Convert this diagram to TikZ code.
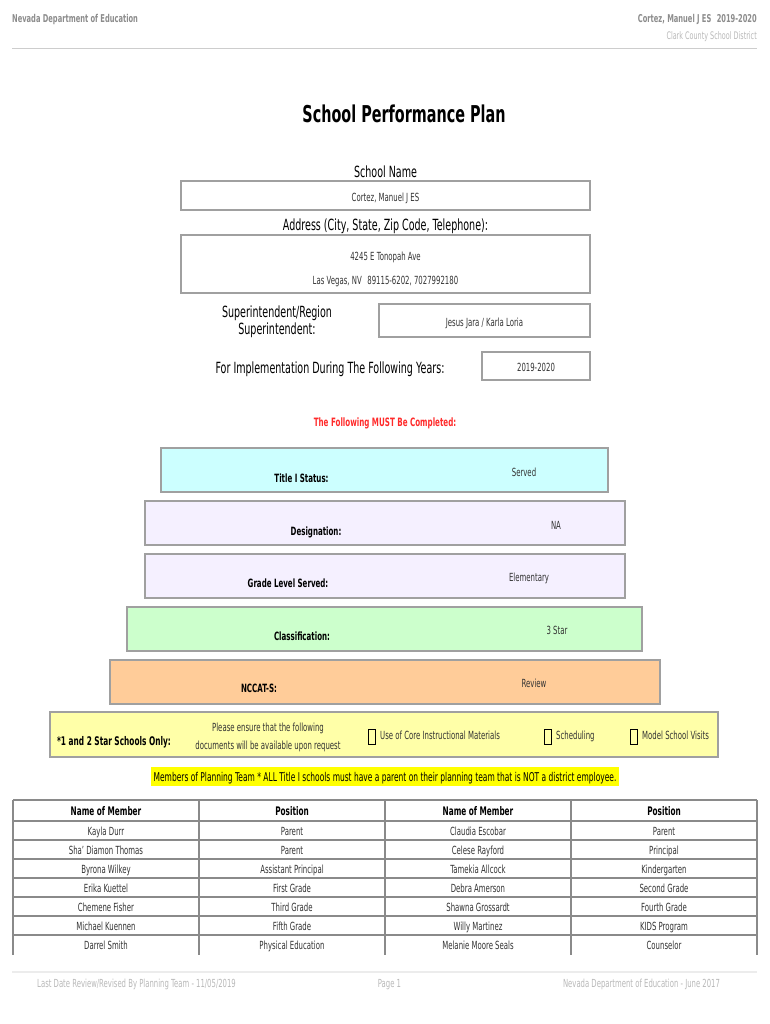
\documentclass[tikz,border=0pt]{standalone}
\usepackage{fontspec}
\setmainfont{DejaVu Sans}[FakeStretch=0.62]
\usetikzlibrary{positioning}

\definecolor{hdrgray}{HTML}{8C8C8C}
\definecolor{ftgray}{HTML}{B8B8B8}
\definecolor{boxline}{HTML}{A0A0A0}
\definecolor{gridline}{HTML}{8A8A8A}
\definecolor{titlecyan}{HTML}{CCFFFF}
\definecolor{lavender}{HTML}{F5F0FF}
\definecolor{mint}{HTML}{CCFFCC}
\definecolor{peach}{HTML}{FFCC99}
\definecolor{paleyellow}{HTML}{FFFFA8}
\definecolor{marker}{HTML}{FFFF00}
\definecolor{mustred}{HTML}{FF2A2A}
\definecolor{ink}{HTML}{333333}
\newcommand{\fsz}[1]{\fontsize{#1}{#1}\selectfont}

\tikzset{
  field/.style={draw=boxline, line width=1.6pt, inner sep=0pt},
  lbl/.style={inner sep=0pt, anchor=base, font=\fsz{15.4}},
  val/.style={inner sep=0pt, anchor=base, text=ink, font=\fsz{11.2}},
  key/.style={inner sep=0pt, anchor=base, font=\bfseries\fsz{11.4}},
  cell/.style={inner sep=0pt, anchor=base, text=ink, font=\fsz{11.2}},
  chk/.style={draw=black, line width=0.8pt, minimum width=7pt, minimum height=15pt, inner sep=0pt},
}

\begin{document}
\begin{tikzpicture}[x=1pt, y=-1pt]
  \useasboundingbox (0,0) rectangle (770,1024);

  % page header
  \node[inner sep=0pt, anchor=base west, text=hdrgray, font=\bfseries\fsz{10.8}] (hdrL) at (12,22.5) {Nevada Department of Education};
  \node[inner sep=0pt, anchor=base east, text=hdrgray, font=\bfseries\fsz{10.8}] (hdrR) at (757,22.5) {Cortez, Manuel J ES\enspace 2019-2020};
  \node[inner sep=0pt, anchor=base east, text=ftgray, font=\fsz{10.4}] (hdrD) at (757,39.5) {Clark County School District};
  \draw[ftgray!70, line width=1pt] (12,49) -- (757,49);

  \node[inner sep=0pt, anchor=base, font=\bfseries\fsz{23.2}] (title) at (404,123) {School Performance Plan};

  % school data
  \node[lbl] (nameL) at (385.5,177.5) {School Name};
  \node[field, minimum width=409pt, minimum height=29pt] (nameF) at (385.5,195.5) {};
  \node[val] (nameV) at (385.5,202) {Cortez, Manuel J ES};

  \node[lbl] (addrL) at (385.5,230.5) {Address (City, State, Zip Code, Telephone):};
  \node[field, minimum width=409pt, minimum height=58pt] (addrF) at (385.5,264) {};
  \node[val] (addrA) at (385.5,260) {4245 E Tonopah Ave};
  \node[val] (addrB) at (385.5,284) {Las Vegas, NV\enspace 89115-6202, 7027992180};

  \node[inner sep=0pt, align=center, font=\fontsize{15.4}{17}\selectfont] (supL) at (277,322) {Superintendent/Region\\Superintendent:};
  \node[field, minimum width=211pt, minimum height=33pt] (supF) at (484.5,320.5) {};
  \node[val] (supV) at (484.5,326) {Jesus Jara / Karla Loria};

  \node[lbl] (yearL) at (330,373.5) {For Implementation During The Following Years:};
  \node[field, minimum width=108pt, minimum height=28pt] (yearF) at (536,366) {};
  \node[val] (yearV) at (536,371) {2019-2020};

  \node[inner sep=0pt, anchor=base, text=mustred, font=\bfseries\fsz{11.5}] (must) at (385,426.5) {The Following MUST Be Completed:};

  % status boxes
  \node[field, fill=titlecyan, minimum width=447pt, minimum height=44pt] (titleF) at (384.5,470) {};
  \node[key] (titleL) at (301.5,482.5) {Title I Status:};
  \node[val] (titleV) at (524,476.5) {Served};

  \node[field, fill=lavender, minimum width=480pt, minimum height=44pt] (desF) at (385,523) {};
  \node[key] (desL) at (316,535.5) {Designation:};
  \node[val] (desV) at (556,529.5) {NA};

  \node[field, fill=lavender, minimum width=480pt, minimum height=44pt] (gradeF) at (385,576) {};
  \node[key] (gradeL) at (288,587.5) {Grade Level Served:};
  \node[val] (gradeV) at (529,581.5) {Elementary};

  \node[field, fill=mint, minimum width=515pt, minimum height=44pt] (classF) at (384.5,629) {};
  \node[key] (classL) at (302,640.5) {Classification:};
  \node[val] (classV) at (557,634.5) {3 Star};

  \node[field, fill=peach, minimum width=550pt, minimum height=44pt] (ncF) at (385,682) {};
  \node[key] (ncL) at (259,692.5) {NCCAT-S:};
  \node[val] (ncV) at (534,687.5) {Review};

  % star schools
  \node[field, fill=paleyellow, minimum width=668pt, minimum height=45pt] (starF) at (384,734.5) {};
  \node[key, font=\bfseries\fsz{11.9}] (starL) at (114,745.5) {*1 and 2 Star Schools Only:};
  \node[val] (starA) at (268,731.5) {Please ensure that the following};
  \node[val] (starB) at (268,749.5) {documents will be available upon request};
  \node[chk] (chkA) at (372,737) {};
  \node[val, anchor=base west] (docA) at (380,739.5) {Use of Core Instructional Materials};
  \node[chk] (chkB) at (548,737) {};
  \node[val, anchor=base west] (docB) at (556,739.5) {Scheduling};
  \node[chk] (chkC) at (634,737) {};
  \node[val, anchor=base west] (docC) at (642,739.5) {Model School Visits};

  \node[inner sep=0pt, fill=marker, minimum width=468pt, minimum height=19pt] (markF) at (385,776.5) {};
  \node[val, text=black, font=\fsz{12.1}] (markV) at (385,781.5) {Members of Planning Team * ALL Title I schools must have a parent on their planning team that is NOT a district employee.};

  % planning team table
  \foreach \y in {800,821,840,859,878,897,916,935}
    \draw[gridline, line width=1.1pt] (13,\y) -- (757,\y);
  \foreach \x in {13,199,385,571,757}
    \draw[gridline, line width=1.1pt] (\x,800) -- (\x,955);
  \foreach \x/\h [count=\k] in {106/Name of Member,292/Position,478/Name of Member,664/Position}
    \node[key, font=\bfseries\fsz{11.8}] (head\k) at (\x,815.5) {\h};
  \foreach \na/\pa/\nb/\pb [count=\i] in {Kayla Durr/Parent/Claudia Escobar/Parent,
      Sha' Diamon Thomas/Parent/Celese Rayford/Principal,
      Byrona Wilkey/Assistant Principal/Tamekia Allcock/Kindergarten,
      Erika Kuettel/First Grade/Debra Amerson/Second Grade,
      Chemene Fisher/Third Grade/Shawna Grossardt/Fourth Grade,
      Michael Kuennen/Fifth Grade/Willy Martinez/KIDS Program,
      Darrel Smith/Physical Education/Melanie Moore Seals/Counselor}{
    \pgfmathsetmacro{\yb}{835+19*(\i-1)}
    \node[cell] (na\i) at (106,\yb) {\na};
    \node[cell] (pa\i) at (292,\yb) {\pa};
    \node[cell] (nb\i) at (478,\yb) {\nb};
    \node[cell] (pb\i) at (664,\yb) {\pb};
  }

  % page footer
  \draw[gray!15, line width=2pt] (12,972) -- (757,972);
  \node[inner sep=0pt, anchor=base west, text=ftgray, font=\fsz{11.1}] (ftL) at (37,987.5) {Last Date Review/Revised By Planning Team - 11/05/2019};
  \node[inner sep=0pt, anchor=base, text=ftgray, font=\fsz{11.1}] (ftC) at (389.5,987.5) {Page 1};
  \node[inner sep=0pt, anchor=base, text=ftgray, font=\fsz{11.1}] (ftR) at (641.5,987.5) {Nevada Department of Education - June 2017};
\end{tikzpicture}
\end{document}
